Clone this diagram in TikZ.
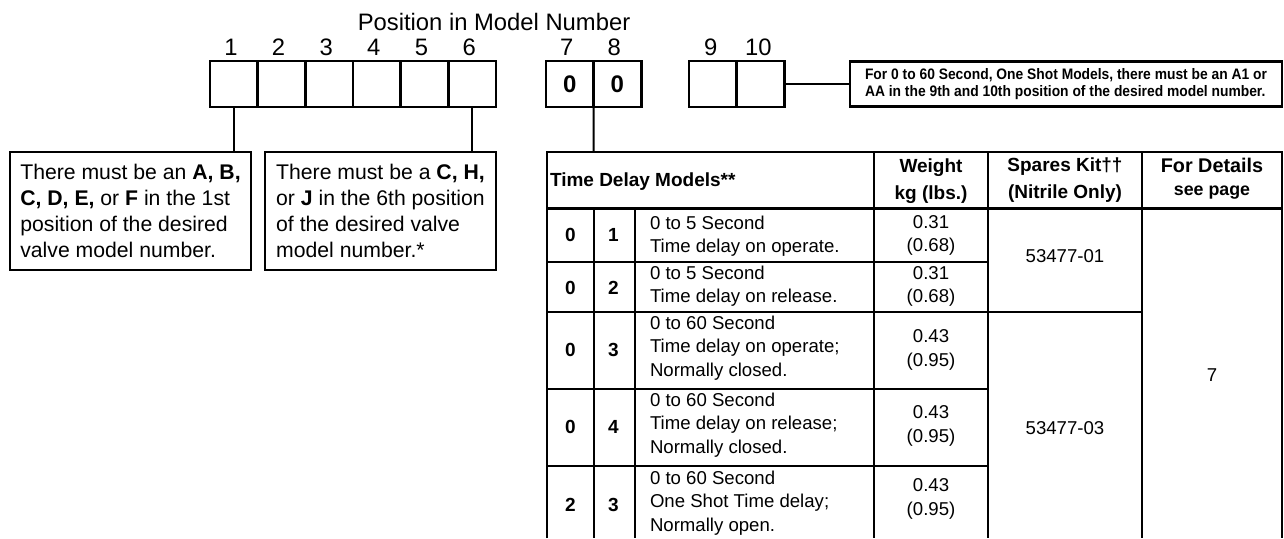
\documentclass[tikz,border=0pt]{standalone}
\usepackage{fontspec}
\setmainfont{Liberation Sans}
\newfontfamily\narrowfont[FakeStretch=0.91]{Liberation Sans}
\usetikzlibrary{positioning}

\begin{document}
\begin{tikzpicture}[x=0.5pt,y=-0.5pt,line width=1pt,
    every node/.style={inner sep=0pt,outer sep=0pt,font=\fontsize{11.9}{14}\selectfont},
    cell/.style={draw,line width=1.4pt,minimum width=23.8pt,minimum height=23pt},
    note/.style={draw,line width=1.4pt,align=left,minimum height=59pt,font=\fontsize{10.6}{13}\selectfont},
    txt/.style={font=\fontsize{9.3}{11.6}\selectfont,align=center},
    bd/.style={font=\bfseries\fontsize{9.5}{11}\selectfont},
    hd/.style={font=\bfseries\fontsize{9.5}{13.2}\selectfont,align=center}]
  \useasboundingbox (0,0) rectangle (1284,538);

  \node (title) at (494,22) {Position in Model Number};

  \node[cell] (p1) at (233.8,84) {};
  \node[cell] (p2) at (281.5,84) {};
  \node[cell] (p3) at (329.2,84) {};
  \node[cell] (p4) at (376.8,84) {};
  \node[cell] (p5) at (424.5,84) {};
  \node[cell] (p6) at (472.2,84) {};
  \node[cell,font=\bfseries\fontsize{12}{14}\selectfont] (p7) at (569.8,84) {0};
  \node[cell,font=\bfseries\fontsize{12}{14}\selectfont] (p8) at (617.3,84) {0};
  \node[cell] (p9) at (712.8,84) {};
  \node[cell] (p10) at (760.3,84) {};

  \node (d1) at (231,47) {1};
  \node (d2) at (278.5,47) {2};
  \node (d3) at (326.2,47) {3};
  \node (d4) at (373.8,47) {4};
  \node (d5) at (421.5,47) {5};
  \node (d6) at (469.2,47) {6};
  \node (d7) at (566.8,47) {7};
  \node (d8) at (614.3,47) {8};
  \node (d9) at (710.8,47) {9};
  \node (d10) at (758.3,47) {10};

  \node[note,minimum width=120.5pt,anchor=north west] (n1) at (10,152)
    {There must be an \textbf{A, B,}\\\textbf{C, D, E,} or \textbf{F} in the 1st\\position of the desired\\valve model number.};
  \node[note,minimum width=115.5pt,anchor=north west] (n2) at (265,152)
    {There must be a \textbf{C, H,}\\or \textbf{J} in the 6th position\\of the desired valve\\model number.*};
  \node[note,minimum width=216pt,minimum height=22.5pt,anchor=north west,
        font=\narrowfont\bfseries\fontsize{7.6}{8.1}\selectfont] (n3) at (850,61.5)
    {For 0 to 60 Second, One Shot Models, there must be an A1 or\\AA in the 9th and 10th position of the desired model number.};

  \coordinate (tbl) at (593.5,152);

  \draw (p1.south) -- (n1.north -| p1.south);
  \draw (p6.south) -- (n2.north -| p6.south);
  \draw (p7.south east) -- (tbl);
  \draw (p10.east) -- (n3.west);

  \draw[line width=1.4pt] (547,538) -- (547,152) -- (1282,152) -- (1282,538);
  \draw[line width=1.4pt] (547,208.5) -- (1282,208.5);
  \draw[line width=0.7pt] (594,208) -- (594,538);
  \draw[line width=0.7pt] (635,208) -- (635,538);
  \draw[line width=0.7pt] (874,152) -- (874,538);
  \draw[line width=0.7pt] (988,152) -- (988,538);
  \draw[line width=0.9pt] (1142,152) -- (1142,538);
  \draw[line width=0.7pt] (547,262) -- (988,262);
  \draw[line width=0.7pt] (547,312) -- (1142,312);
  \draw[line width=0.7pt] (547,389) -- (988,389);
  \draw[line width=0.7pt] (547,466) -- (988,466);

  \node[hd,anchor=west] (h1) at (550,182) {Time Delay Models**};
  \node[hd] (h2) at (931,181) {Weight\\kg (lbs.)};
  \node[hd] (h3) at (1065,180) {Spares Kit††\\(Nitrile Only)};
  \node[hd,font=\bfseries\fontsize{9.9}{13}\selectfont] (h4) at (1212,165) {For Details};
  \node[hd,font=\bfseries\fontsize{8.9}{13}\selectfont] (h5) at (1212,193) {see page};

  \node[bd] (a1) at (570.5,235) {0};
  \node[bd] (b1) at (613.5,235) {1};
  \node[txt,align=left,anchor=west] (e1) at (650,236) {0 to 5 Second\\Time delay on operate.};
  \node[txt] (w1) at (931,235.5) {0.31\\(0.68)};

  \node[bd] (a2) at (570.5,287.5) {0};
  \node[bd] (b2) at (613.5,287.5) {2};
  \node[txt,align=left,anchor=west] (e2) at (650,286) {0 to 5 Second\\Time delay on release.};
  \node[txt] (w2) at (931,286.5) {0.31\\(0.68)};

  \node[bd] (a3) at (570.5,350) {0};
  \node[bd] (b3) at (613.5,350) {3};
  \node[txt,align=left,anchor=west] (e3) at (650,348) {0 to 60 Second\\Time delay on operate;\\Normally closed.};
  \node[txt] (w3) at (931,350) {0.43\\(0.95)};

  \node[bd] (a4) at (570.5,427) {0};
  \node[bd] (b4) at (613.5,427) {4};
  \node[txt,align=left,anchor=west] (e4) at (650,425) {0 to 60 Second\\Time delay on release;\\Normally closed.};
  \node[txt] (w4) at (931,426) {0.43\\(0.95)};

  \node[bd] (a5) at (570.5,505) {2};
  \node[bd] (b5) at (613.5,505) {3};
  \node[txt,align=left,anchor=west] (e5) at (650,503) {0 to 60 Second\\One Shot Time delay;\\Normally open.};
  \node[txt] (w5) at (931,499) {0.43\\(0.95)};

  \node[txt] (s1) at (1065,256) {53477-01};
  \node[txt] (s2) at (1065,428) {53477-03};
  \node[txt] (pg) at (1212,375) {7};
\end{tikzpicture}
\end{document}
